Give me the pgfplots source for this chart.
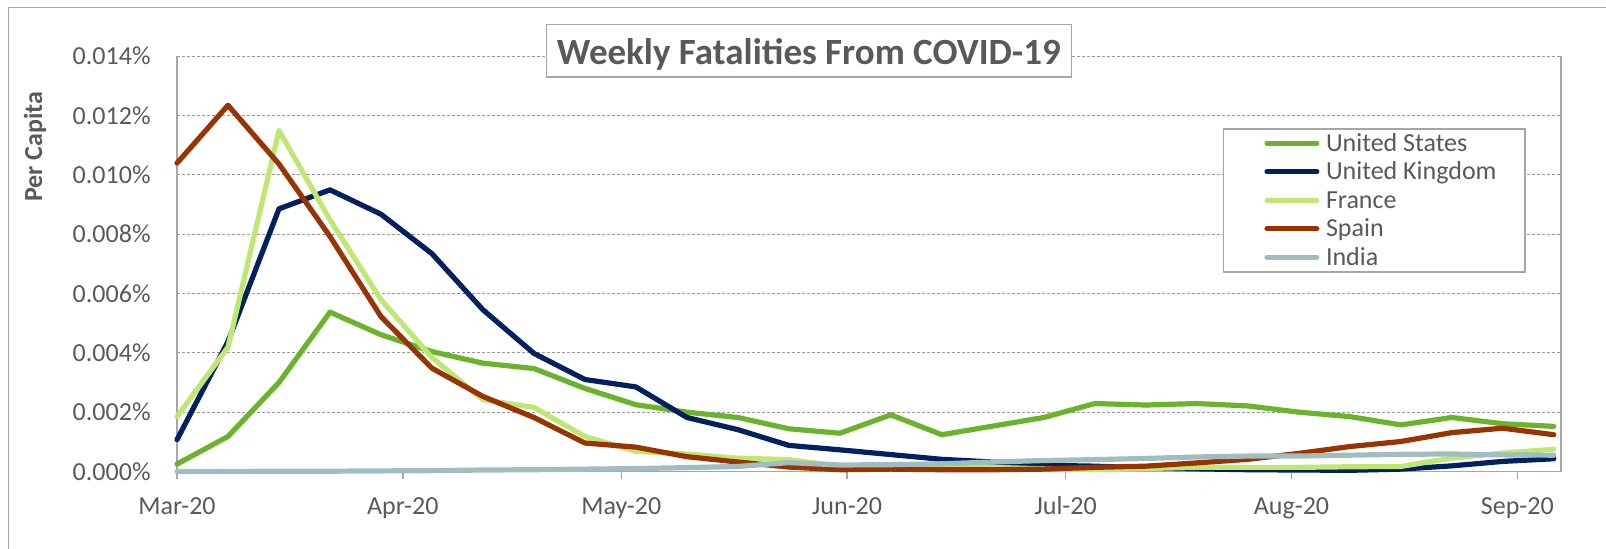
\documentclass[border=0pt]{standalone}
\usepackage{fontspec}
\setmainfont{Carlito}
\usepackage{pgfplots}
\pgfplotsset{compat=1.18}
\usepackage{pgfplotstable}

\definecolor{usgreen}{RGB}{106,180,45}
\definecolor{uknavy}{RGB}{0,32,96}
\definecolor{frgreen}{RGB}{192,230,115}
\definecolor{esbrown}{RGB}{153,51,0}
\definecolor{ingrey}{RGB}{160,190,192}
\definecolor{txtgrey}{RGB}{89,89,89}
\definecolor{gridgrey}{RGB}{150,150,150}
\definecolor{framegrey}{RGB}{166,166,166}

% weekly fatalities per capita, in percent
\pgfplotstableread{
day US      UK      FR      ES      IN
0   0.00025 0.00107 0.00185 0.01039 0.00000
7   0.00118 0.00438 0.00419 0.01234 0.00000
14  0.00300 0.00885 0.01149 0.01036 0.00001
21  0.00537 0.00949 0.00848 0.00792 0.00001
28  0.00461 0.00867 0.00579 0.00522 0.00002
35  0.00404 0.00734 0.00384 0.00348 0.00003
42  0.00365 0.00545 0.00242 0.00253 0.00005
49  0.00347 0.00398 0.00216 0.00182 0.00006
56  0.00280 0.00310 0.00118 0.00096 0.00008
63  0.00225 0.00285 0.00068 0.00082 0.00010
70  0.00200 0.00182 0.00059 0.00050 0.00013
77  0.00182 0.00141 0.00045 0.00032 0.00017
84  0.00144 0.00088 0.00040 0.00015 0.00030
91  0.00129 0.00073 0.00018 0.00006 0.00022
98  0.00191 0.00057 0.00018 0.00008 0.00023
105 0.00124 0.00041 0.00012 0.00006 0.00026
112 0.00153 0.00032 0.00014 0.00006 0.00032
119 0.00182 0.00021 0.00009 0.00008 0.00037
126 0.00229 0.00018 0.00006 0.00014 0.00040
133 0.00224 0.00012 0.00010 0.00018 0.00044
140 0.00229 0.00009 0.00014 0.00029 0.00049
147 0.00221 0.00006 0.00014 0.00041 0.00052
154 0.00200 0.00005 0.00014 0.00061 0.00052
161 0.00185 0.00004 0.00016 0.00084 0.00055
168 0.00157 0.00008 0.00017 0.00101 0.00058
175 0.00182 0.00019 0.00045 0.00131 0.00059
182 0.00161 0.00034 0.00062 0.00146 0.00056
189 0.00152 0.00043 0.00075 0.00124 0.00055
}\fatal

\begin{document}
\begin{tikzpicture}
\useasboundingbox (0,0) rectangle (803pt,274pt);
\draw[framegrey, line width=0.75pt] (4.2pt,-5pt) -- (4.2pt,270.15pt) -- (810pt,270.15pt);
\begin{axis}[
  at={(88.5pt,38.25pt)}, anchor=south west,
  scale only axis, width=692pt, height=207.75pt,
  xmin=0, xmax=190, ymin=0, ymax=0.014,
  clip=false,
  scaled y ticks=false, scaled x ticks=false,
  axis x line*=bottom, axis y line*=box,
  axis line style={framegrey, line width=0.75pt, -},
  xtick={0,31,61,92,122,153,184},
  xticklabels={Mar-20,Apr-20,May-20,Jun-20,Jul-20,Aug-20,Sep-20},
  ytick={0,0.002,0.004,0.006,0.008,0.010,0.012,0.014},
  yticklabels={0.000\%,0.002\%,0.004\%,0.006\%,0.008\%,0.010\%,0.012\%,0.014\%},
  ymajorgrids,
  grid style={gridgrey, line width=0.5pt, dash pattern=on 1.5pt off 1pt},
  tick align=outside, major tick length=3.5pt,
  xtick style={framegrey, line width=0.75pt},
  ytick style={draw=none},
  tick label style={font=\fontsize{13}{15.6}\selectfont, text=txtgrey},
  xticklabel style={anchor=base, inner sep=0pt, yshift=-18pt},
  yticklabel style={anchor=east, inner sep=0pt, xshift=-9.5pt},
  ylabel={Per Capita},
  ylabel style={font=\bfseries\fontsize{13}{15.6}\selectfont, text=txtgrey,
    at={(rel axis cs:-0.1025,0.7815)}, anchor=center},
  legend cell align=left,
  legend image code/.code={%
    \path (-4.8pt,4pt) (27.5pt,4pt);
    \draw[#1, line width=2.5pt, line cap=round] (1.25pt,4pt) -- (26.25pt,4pt);},
  legend style={at={(rel axis cs:0.7556,0.826)}, anchor=north west,
    draw=framegrey, line width=0.75pt, fill=white,
    font=\fontsize{13}{15.6}\selectfont, text=txtgrey,
    inner xsep=14.35pt, inner ysep=1.5pt, row sep=3.15pt, column sep=2pt,
    nodes={inner sep=0pt, text height=9.5pt, text depth=1.65pt, anchor=base west}},
  every axis plot/.append style={line width=2.6pt, line join=round, line cap=round},
]
\addplot[usgreen] table[x=day, y=US] {\fatal};
\addlegendentry{United States}
\addplot[uknavy] table[x=day, y=UK] {\fatal};
\addlegendentry{United Kingdom}
\addplot[frgreen] table[x=day, y=FR] {\fatal};
\addlegendentry{France}
\addplot[esbrown] table[x=day, y=ES] {\fatal};
\addlegendentry{Spain}
\addplot[ingrey] table[x=day, y=IN] {\fatal};
\addlegendentry{India}
\end{axis}
\draw[framegrey, line width=0.6pt, fill=white] (273.25pt,235.55pt) rectangle (535.6pt,261.75pt);
\node[anchor=base, inner sep=0pt, font=\bfseries\fontsize{18.5}{22}\selectfont, text=txtgrey] at (404.4pt,241.65pt) {Weekly Fatalities From COVID-19};
\end{tikzpicture}
\end{document}
